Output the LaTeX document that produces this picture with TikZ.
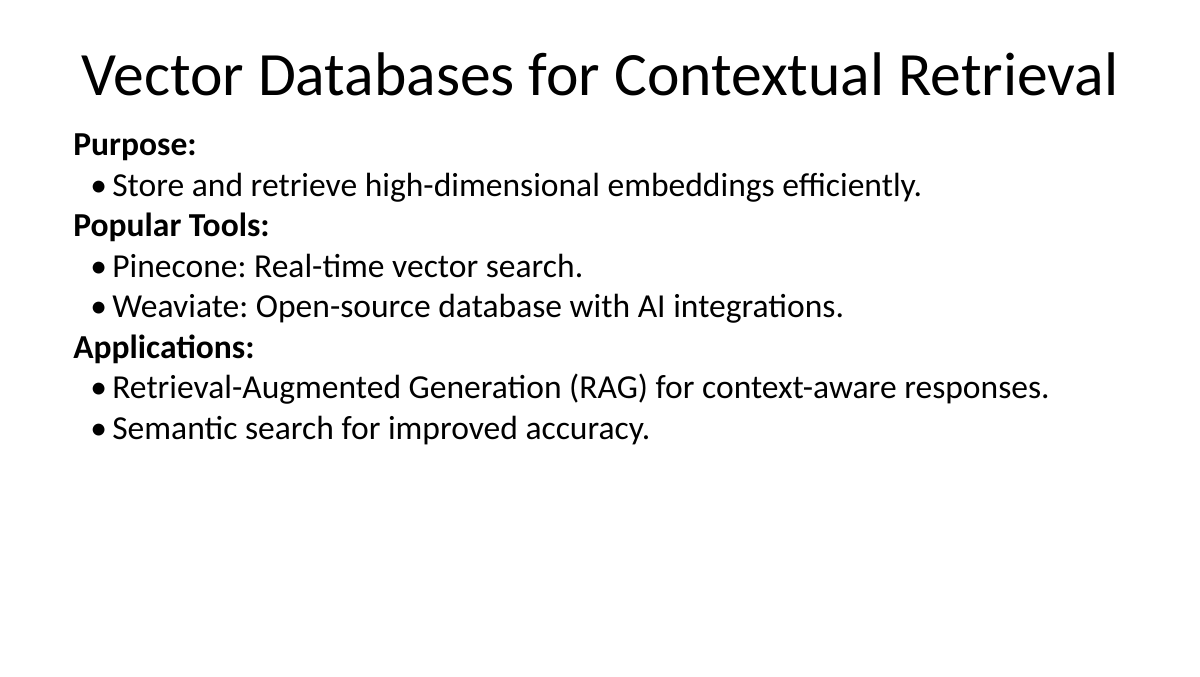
\documentclass[tikz,border=0pt]{standalone}
\usepackage{fontspec}
\setmainfont{Carlito}
\usetikzlibrary{positioning}
\frenchspacing

\begin{document}
\begin{tikzpicture}[
x=0.6bp, y=-0.6bp,
titlenode/.style={anchor=base, inner sep=0pt, font=\fontsize{37.1}{44}\selectfont},
headnode/.style={anchor=base west, inner sep=0pt, font=\fontsize{20.2}{24}\selectfont\bfseries},
bulletnode/.style={anchor=base west, inner sep=0pt, font=\fontsize{20.2}{24}\selectfont},
itemnode/.style={anchor=base west, inner sep=0pt, font=\fontsize{20.2}{24}\selectfont},
]

% Slide background
\fill[white] (0,0) rectangle (1200,676);
\useasboundingbox (0,0) rectangle (1200,676);

% Title
\node[titlenode] (title) at (600,95) {Vector Databases for Contextual Retrieval};

% Purpose
\node[headnode]   (purpose)      at (73,155)  {Purpose:};
\node[bulletnode] (bulletstore)  at (90,196)  {•};
\node[itemnode]   (store)        at (112,196) {Store and retrieve high-dimensional embeddings efficiently.};

% Popular tools
\node[headnode]   (tools)        at (73,236)  {Popular Tools:};
\node[bulletnode] (bulletpine)   at (90,277)  {•};
\node[itemnode]   (pinecone)     at (112,277) {Pinecone: Real-time vector search.};
\node[bulletnode] (bulletweav)   at (90,317)  {•};
\node[itemnode]   (weaviate)     at (112,317) {Weaviate: Open-source database with AI integrations.};

% Applications
\node[headnode]   (applications) at (73,358)  {Applications:};
\node[bulletnode] (bulletrag)    at (90,398)  {•};
\node[itemnode]   (rag)          at (112,398) {Retrieval-Augmented Generation (RAG) for context-aware responses.};
\node[bulletnode] (bulletsem)    at (90,439)  {•};
\node[itemnode]   (semantic)     at (112,439) {Semantic search for improved accuracy.};
\end{tikzpicture}
\end{document}
